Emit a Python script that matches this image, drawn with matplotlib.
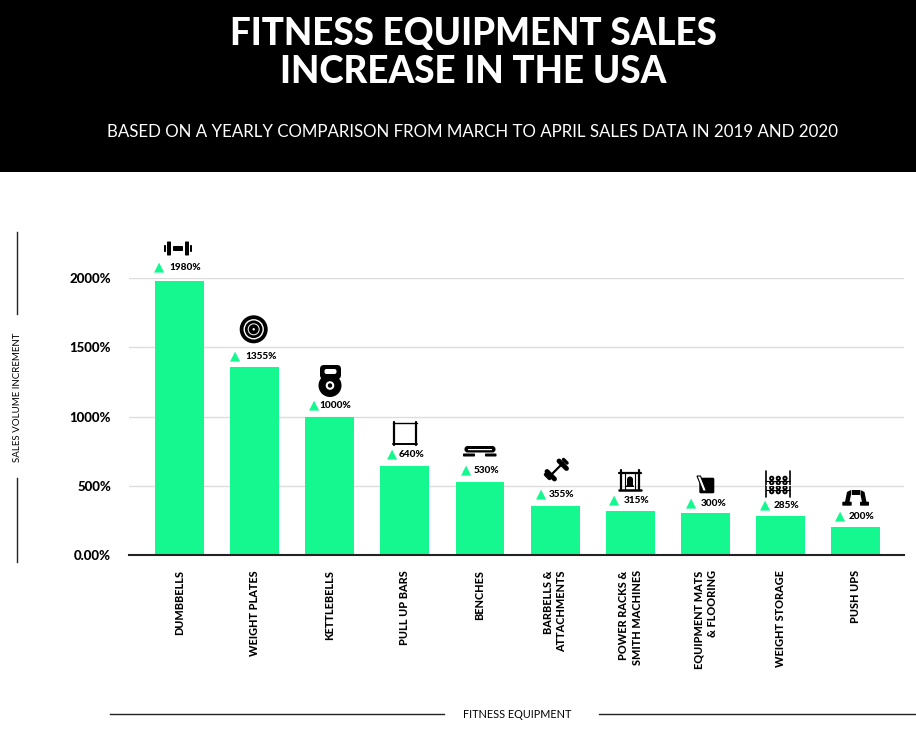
import matplotlib
matplotlib.use("Agg")
import matplotlib.pyplot as plt
from matplotlib.patches import Rectangle, Circle, Polygon, FancyBboxPatch

C_GREEN = "#14F88F"
C_BLACK = "#000000"
C_GRID  = "#DDDDDD"
FONT = "Lato"

categories = ["DUMBBELLS", "WEIGHT PLATES", "KETTLEBELLS", "PULL UP BARS", "BENCHES",
              "BARBELLS &\nATTACHMENTS", "POWER RACKS &\nSMITH MACHINES",
              "EQUIPMENT MATS\n& FLOORING", "WEIGHT STORAGE", "PUSH UPS"]
values = [1980, 1355, 1000, 640, 530, 355, 315, 300, 285, 200]
value_labels = ["1980%", "1355%", "1000%", "640%", "530%", "355%", "315%", "300%", "285%", "200%"]
y_ticks = [0, 500, 1000, 1500, 2000]
y_tick_labels = ["0.00%", "500%", "1000%", "1500%", "2000%"]

W, H = 916, 730
PT = 0.72  # points per pixel at dpi 100
fig = plt.figure(figsize=(W / 100, H / 100), dpi=100, facecolor="white")

# ── Chart ─────────────────────────────────────────────────────────────────────
ax = fig.add_axes([129 / W, (H - 555) / H, 775 / W, 277 / H])
ax.bar(range(len(values)), values, width=0.65, color=C_GREEN, zorder=2)
ax.set_xlim(-0.67, 9.64)
ax.set_ylim(0, 2000)
ax.set_yticks(y_ticks, y_tick_labels, fontsize=9.5, fontfamily=FONT, fontweight="black")
ax.set_xticks(range(len(categories)), categories, rotation=90, fontsize=7.8, fontfamily=FONT,
              fontweight="black", linespacing=1.25, va="top", ha="center",
              multialignment="right")
ax.tick_params(axis="both", length=0)
ax.tick_params(axis="x", pad=11)
ax.tick_params(axis="y", pad=13)
ax.grid(axis="y", color=C_GRID, lw=1, zorder=0)
ax.set_axisbelow(True)
for side in ["top", "right", "left"]:
    ax.spines[side].set_visible(False)
ax.spines["bottom"].set_linewidth(1.5)
ax.spines["bottom"].set_color("#222222")

# value labels: triangle and text, pixel offsets from the bar top
tri_dx  = [-20, -19, -16, -13, -14, -14, -16, -14, -16, -16]
text_dx = [-10, -9, -10, -6, -6, -6, -7, -5, -7, -7]
label_dy = [13, 10.5, 11.5, 12, 11.5, 11, 11, 10, 10.5, 11]
for i, (v, lab) in enumerate(zip(values, value_labels)):
    ax.annotate("\u25b2", (i, v), xytext=(tri_dx[i] * PT, (label_dy[i] + 0.5) * PT),
                textcoords="offset points", ha="center", va="center", fontsize=9.5,
                color=C_GREEN, fontfamily="DejaVu Sans", annotation_clip=False)
    ax.annotate(lab, (i, v), xytext=(text_dx[i] * PT, label_dy[i] * PT),
                textcoords="offset points", ha="left", va="center", fontsize=7.2,
                fontfamily=FONT, fontweight="black", annotation_clip=False)

# ── Overlay in pixel coordinates ──────────────────────────────────────────────
ov = fig.add_axes([0, 0, 1, 1], zorder=5)
ov.set_xlim(0, W)
ov.set_ylim(H, 0)
ov.axis("off")
ov.patch.set_alpha(0)

ov.add_patch(Rectangle((0, 0), W, 172, facecolor=C_BLACK, edgecolor="none"))
ov.text(473.5, 45, "FITNESS EQUIPMENT SALES", color="white", fontsize=26.5, fontfamily=FONT,
        fontweight="black", ha="center", va="baseline")
ov.text(473.5, 83, "INCREASE IN THE USA", color="white", fontsize=26.5, fontfamily=FONT,
        fontweight="black", ha="center", va="baseline")
ov.text(472.5, 137, "BASED ON A YEARLY COMPARISON FROM MARCH TO APRIL SALES DATA IN 2019 AND 2020",
        color="white", fontsize=12.15, fontfamily=FONT, ha="center", va="baseline")

# side and bottom axis titles with their rules
ov.plot([17, 17], [232, 314], color="#222222", lw=1)
ov.plot([17, 17], [478, 562], color="#222222", lw=1)
ov.text(18, 397, "SALES VOLUME INCREMENT", rotation=90, fontsize=7, fontfamily=FONT,
        ha="center", va="center")
ov.plot([110, 444], [714, 714], color="#222222", lw=1)
ov.plot([599, 916], [714, 714], color="#222222", lw=1)
ov.text(517.5, 714, "FITNESS EQUIPMENT", fontsize=7.8, fontfamily=FONT, ha="center", va="center")


# ── Icons ─────────────────────────────────────────────────────────────────────
def box(x, y, w, h, color=C_BLACK, r=0.8):
    ov.add_patch(FancyBboxPatch((x, y), w, h, boxstyle=f"round,pad=0,rounding_size={r}",
                                facecolor=color, edgecolor="none"))


def line(xs, ys, lw=1.5, color=C_BLACK, cap="round"):
    ov.plot(xs, ys, color=color, lw=lw, solid_capstyle=cap)


def disc(x, y, r, color=C_BLACK):
    ov.add_patch(Circle((x, y), r, facecolor=color, edgecolor="none"))


# dumbbell
box(164, 245, 2, 7); box(167, 241.5, 4, 14); box(173, 246, 10, 5)
box(185, 241.5, 4, 14); box(190, 245, 2, 7)
# weight plate
disc(253.7, 329.3, 14)
ov.add_patch(Circle((253.7, 329.3), 9.5, facecolor="none", edgecolor="white", lw=1))
ov.add_patch(Circle((253.7, 329.3), 5.5, facecolor="none", edgecolor="white", lw=0.7))
disc(253.7, 329.3, 1.2, "white")
# kettlebell
disc(330, 385.5, 11.5)
box(320, 365, 21, 14, r=4)
box(324.5, 369, 12, 5, "white", r=2)
disc(330, 385.5, 4.3, "white")
disc(330, 385.5, 2.2)
# pull up bar
line([393.7, 393.7], [422, 445], 1.6); line([416, 416], [422, 445], 1.6)
line([393, 417], [423.3, 423.3], 1); line([393, 417], [444, 444], 1.4)
# bench
box(464.5, 446, 31, 6.5, r=3)
box(468, 449, 24, 1.2, "white", r=0.3)
box(463, 453.5, 12, 3); box(485, 453.5, 11.5, 3)
# barbell
line([551, 563], [475, 463], 1.6)
line([547, 554.5], [471.5, 479], 3.5)
line([545.5, 549.5], [474.5, 478.5], 2.5)
line([559, 566.5], [461, 468.5], 3.5)
line([563.5, 567], [459.5, 463], 2.5)
# power rack
line([620.7, 620.7], [469.5, 489], 1.6); line([639.3, 639.3], [469.5, 489], 1.6)
line([619, 641], [473, 473], 1.6); line([619, 641], [489.5, 489.5], 1.8)
line([625, 625], [473, 489], 0.8); line([635, 635], [473, 489], 0.8)
disc(630, 479.5, 3)
box(627, 479.5, 6, 7, r=0.5)
box(626, 485.5, 8, 1.5, r=0.3)
# mat
box(699.3, 477.7, 15, 15.6, r=1.5)
ov.add_patch(Polygon([[697, 476], [700.5, 476], [706.5, 491], [703, 491]], facecolor="white",
                     edgecolor=C_BLACK, lw=0.8))
# weight storage
line([765.7, 765.7], [471, 497.3], 1.2); line([790.3, 790.3], [471, 497.3], 1.2)
for cx in [771.7, 778.3, 785]:
    for cy in [478.3, 482.7, 487.7, 491.7]:
        disc(cx, cy, 2.6)
        disc(cx, cy, 0.7, "white")
line([766, 790], [485, 485], 0.8, "white")
line([766, 790], [480.5, 480.5], 0.8)
line([766, 790], [489.5, 489.5], 0.8)
# push up bars
box(851.7, 490, 8.3, 5, r=0.4)
ov.add_patch(Polygon([[845, 502], [847, 492], [851, 490], [851, 495], [849.5, 502]], facecolor=C_BLACK))
ov.add_patch(Polygon([[866.5, 502], [864.5, 492], [860.5, 490], [860.5, 495], [862, 502]], facecolor=C_BLACK))
box(842.3, 501.7, 9.4, 4); box(860, 501.7, 9, 4)

fig.savefig("out.png", dpi=100)
